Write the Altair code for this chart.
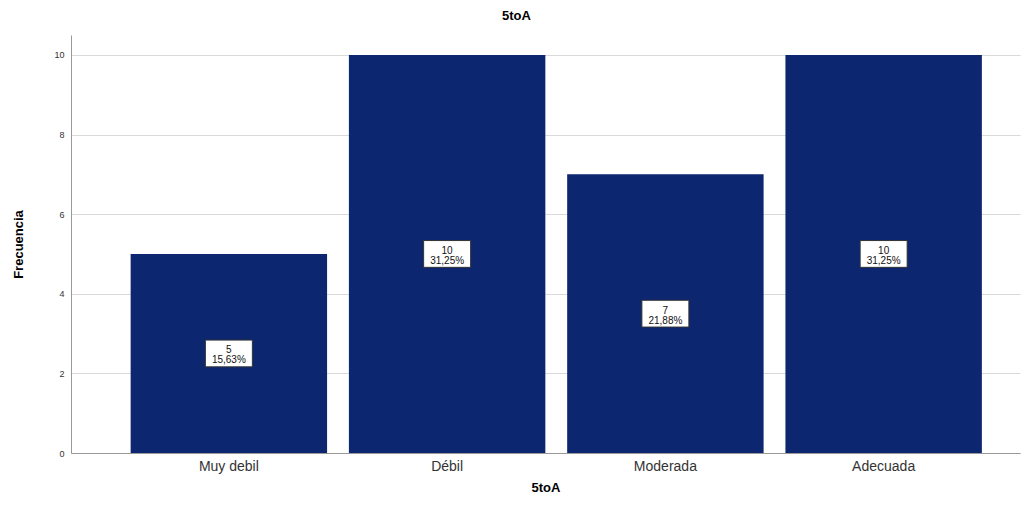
import altair as alt
import pandas as pd

categories = ["Muy debil", "Débil", "Moderada", "Adecuada"]
counts = [5, 10, 7, 10]
percents = ["15,63%", "31,25%", "21,88%", "31,25%"]

df = pd.DataFrame({
    "cat": categories,
    "n": counts,
    "label": [f"{c}\n{p}" for c, p in zip(counts, percents)],
})
df["mid"] = df["n"] / 2

x_enc = alt.X("cat:N", sort=categories,
              scale=alt.Scale(paddingInner=0.1, paddingOuter=0.224, align=0.61),
              axis=alt.Axis(title="5toA", labelAngle=0, labelFontSize=14,
                            labelColor="#333333", labelFont="Liberation Sans",
                            labelPadding=6, titleFontSize=13, titleFont="Liberation Sans",
                            titleFontWeight="bold", titlePadding=8, ticks=False,
                            domainColor="#999999", grid=False))

bars = alt.Chart(df).mark_bar(color="#0d2670").encode(
    x=x_enc,
    y=alt.Y("n:Q", scale=alt.Scale(domain=[0, 10.5], nice=False),
            axis=alt.Axis(title="Frecuencia", values=[0, 2, 4, 6, 8, 10],
                          labelFontSize=9, labelColor="#333333",
                          titleFontSize=13, titleFont="Liberation Sans",
                          titleFontWeight="bold", titleX=-53, titleBaseline="middle",
                          ticks=False, labelPadding=7,
                          domainColor="#999999", gridColor="#d9d9d9")),
)

boxes = alt.Chart(df).mark_point(
    shape="M-1,-0.57L1,-0.57L1,0.57L-1,0.57Z", size=2209, filled=True,
    fill="white", stroke="#333333", strokeWidth=1, opacity=1,
).encode(x=alt.X("cat:N", sort=categories), y=alt.Y("mid:Q"))

texts = alt.Chart(df).mark_text(
    lineBreak="\n", fontSize=10, color="#111111", font="Liberation Sans",
    baseline="middle", lineHeight=10, dy=-3,
).encode(x=alt.X("cat:N", sort=categories), y=alt.Y("mid:Q"), text="label:N")

chart = alt.layer(bars, boxes, texts).properties(
    width=949, height=418,
    title=alt.TitleParams("5toA", fontSize=13, font="Liberation Sans",
                          fontWeight="bold", offset=12, dx=-29),
    autosize=alt.AutoSizeParams(type="none"),
    padding={"left": 63, "top": 27, "right": 3, "bottom": 57},
).configure_view(stroke=None).configure_axis(gridWidth=1)

chart.save("out.html", embed_options={"renderer": "svg", "actions": False})
